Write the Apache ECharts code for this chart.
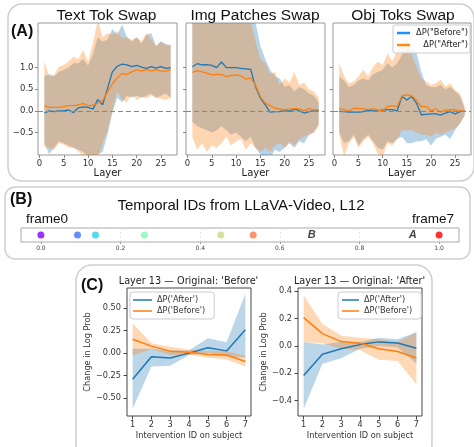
<!DOCTYPE html>
<html><head><meta charset="utf-8">
<script src="https://cdn.jsdelivr.net/npm/echarts@6/dist/echarts.min.js"></script>
<style>html,body{margin:0;padding:0;background:#fff}#c{width:474px;height:447px}</style>
</head><body><div id="c"></div>
<script>
// ---------- DATA ----------
const layers = [1,2,3,4,5,6,7,8,9,10,11,12,13,14,15,16,17,18,19,20,21,22,23,24,25,26,27];
const layerTicks = [0,5,10,15,20,25];
const aYTicks = [-0.5,0,0.5,1.0];

// Text Tok Swap
const ttBefore   = [-0.05,0.0,-0.02,0.0,0.0,0.02,-0.04,0.07,0.09,0.08,0.04,0.26,0.14,0.52,0.9,1.03,1.08,1.06,1.02,1.05,1.01,0.98,1.02,0.99,1.02,0.98,1.0];
const ttBeforeLo = [-0.75,-1.0,-0.85,-0.7,-0.75,-0.8,-0.85,-0.9,-0.95,-1.05,-1.05,-1.0,-0.95,-0.55,-0.05,0.3,0.2,0.35,0.3,0.35,0.3,0.35,0.4,0.3,0.35,0.4,0.3];
const ttBeforeHi = [0.8,0.85,0.8,0.9,0.95,1.0,1.1,1.1,1.2,1.05,1.3,1.7,1.6,1.65,1.9,1.75,2.0,1.7,1.6,1.7,1.55,1.75,1.8,1.5,1.6,1.55,1.5];
const ttAfter    = [0.12,0.08,0.08,0.08,0.1,0.12,0.12,0.14,0.17,0.12,0.13,0.17,0.24,0.44,0.62,0.76,0.86,0.84,0.9,0.95,0.92,0.96,0.92,0.95,0.92,0.92,0.95];
const ttAfterLo  = [-0.82,-0.86,-0.9,-0.75,-0.78,-0.85,-0.85,-0.94,-1.05,-1.1,-1.1,-1.1,-0.75,-0.45,0.0,0.45,0.25,0.2,0.37,0.25,0.33,0.29,0.35,0.3,0.28,0.25,0.3];
const ttAfterHi  = [1.14,0.79,0.83,1.02,1.06,1.14,1.25,1.2,1.4,1.14,1.56,2.1,1.7,1.8,1.75,1.85,1.68,1.7,1.64,1.7,1.6,1.8,1.65,1.5,1.6,1.5,1.55];

// Img Patches Swap
const ipBefore   = [1.02,1.09,1.06,1.07,1.05,1.0,1.13,1.0,1.0,1.0,0.98,0.97,0.96,0.56,0.3,0.14,-0.03,-0.02,-0.02,0.01,-0.01,0.04,0.0,-0.05,-0.02,0.0,0.0];
const ipBeforeLo = [-0.25,-0.35,-0.4,-0.45,-0.5,-0.45,-0.35,-0.45,-0.55,-0.5,-0.6,-0.7,-0.6,-0.85,-1.0,-1.1,-1.1,-0.9,-0.95,-0.85,-0.75,-0.85,-0.7,-0.75,-0.55,-0.5,-0.3];
const ipBeforeHi = [2.1,2.1,2.1,2.1,2.1,2.1,2.1,2.1,2.1,2.1,2.1,2.1,2.1,2.05,1.5,1.2,0.95,0.8,0.75,0.55,0.6,0.45,0.55,0.5,0.4,0.35,0.2];
const ipAfter    = [0.89,0.93,0.9,0.87,0.83,0.84,0.84,0.79,0.82,0.83,0.81,0.73,0.77,0.59,0.33,0.18,0.12,0.06,0.04,0.02,0.04,0.05,0.05,0.0,0.05,0.02,0.03];
const ipAfterLo  = [-0.6,-0.9,-0.75,-0.95,-0.8,-0.85,-0.75,-0.6,-0.8,-0.7,-0.65,-0.9,-0.75,-0.85,-0.95,-0.85,-0.95,-0.8,-0.75,-0.85,-0.7,-0.8,-0.65,-0.6,-0.55,-0.5,-0.35];
const ipAfterHi  = [2.1,2.1,2.1,2.1,2.1,2.1,2.1,2.1,2.1,2.1,2.1,2.1,2.1,1.6,1.2,1.1,0.85,0.9,0.6,0.75,0.65,0.9,0.6,0.65,0.5,0.45,0.3];

// Obj Toks Swap
const otBefore   = [-0.01,-0.02,-0.03,-0.03,-0.03,-0.02,0.02,0.0,0.0,0.02,0.03,0.03,0.0,0.33,0.25,0.33,0.18,-0.09,-0.08,-0.07,-0.07,-0.1,-0.05,-0.02,-0.07,-0.02,0.0];
const otBeforeLo = [-0.5,-0.75,-0.7,-0.55,-0.8,-0.65,-0.55,-0.7,-0.85,-0.9,-0.7,-0.75,-0.65,-0.6,-0.75,-0.75,-0.7,-0.7,-0.65,-0.8,-0.65,-0.6,-0.55,-0.65,-0.45,-0.3,-0.1];
const otBeforeHi = [0.8,0.7,0.55,0.6,0.7,0.75,0.7,0.85,0.9,0.95,1.1,1.0,1.1,1.3,1.45,1.5,1.35,0.9,0.6,0.55,0.55,0.6,0.5,0.55,0.45,0.35,0.05];
const otAfter    = [0.06,0.03,0.0,0.06,0.05,0.05,0.03,0.05,0.02,0.0,0.1,0.12,0.1,0.35,0.37,0.35,0.25,0.1,0.1,0.0,0.05,-0.03,0.02,0.02,0.03,0.0,0.0];
const otAfterLo  = [-0.55,-1.05,-0.75,-0.6,-0.85,-0.7,-0.6,-0.75,-1.0,-1.05,-0.75,-0.8,-0.65,-0.45,-0.45,-0.45,-0.5,-0.55,-0.55,-0.6,-0.5,-0.55,-0.5,-0.45,-0.4,-0.3,-0.1];
const otAfterHi  = [1.1,0.8,0.64,0.68,0.8,0.95,0.8,1.02,1.14,1.06,1.33,1.14,1.4,1.55,1.75,1.3,1.02,0.75,0.68,0.6,0.64,0.72,0.56,0.64,0.48,0.4,0.1];

// Panel B
const framePos  = [0.0,0.092,0.137,0.26,0.452,0.533,1.0];
const frameCols = ['#8000ff','#3a72f8','#22d3e0','#7ff9b4','#c9d97f','#ff7848','#ff0000'];
const letterPos = [0.68,0.934];
const letterTxt = ['B','A'];
const bTicks = [0,0.2,0.4,0.6,0.8,1.0];

// Panel C
const cx = [1,2,3,4,5,6,7];
const c1After    = [-0.29,-0.04,-0.055,0.0,0.06,0.025,0.26];
const c1AfterLo  = [-0.62,-0.15,-0.14,-0.02,0.0,-0.04,-0.05];
const c1AfterHi  = [0.05,0.05,0.03,0.03,0.165,0.12,0.66];
const c1Before   = [0.155,0.078,0.022,0.01,-0.015,-0.02,-0.093];
const c1BeforeLo = [-0.03,0.045,-0.02,-0.02,-0.05,-0.07,-0.15];
const c1BeforeHi = [0.33,0.11,0.07,0.04,0.02,0.02,-0.03];
const c2After    = [-0.215,-0.06,-0.02,0.01,0.03,0.022,-0.017];
const c2AfterLo  = [-0.46,-0.13,-0.09,-0.02,0.0,-0.01,-0.13];
const c2AfterHi  = [0.03,0.01,0.03,0.03,0.06,0.05,0.1];
const c2Before   = [0.207,0.09,0.032,0.02,-0.02,-0.04,-0.088];
const c2BeforeLo = [0.03,0.02,-0.02,-0.03,-0.1,-0.11,-0.28];
const c2BeforeHi = [0.37,0.16,0.075,0.06,0.05,0.03,0.1];
const c1YTicks = [-0.5,-0.25,0,0.25,0.5];
const c2YTicks = [-0.4,-0.2,0,0.2,0.4];

// ---------- CHART ----------
const MPL = '"DejaVu Sans"';
const SANS = '"Liberation Sans"';
const BLUE = '#1f77b4', ORANGE = '#ff7f0e';
const fmt = d => v => (v < 0 ? '\u2212' : '') + Math.abs(v).toFixed(d);

const grids = [
  {left:38, top:23, width:139, height:132, borderColor:'#999'},
  {left:186, top:23, width:139, height:132, borderColor:'#999'},
  {left:333, top:23, width:138, height:132, borderColor:'#999'},
  {left:21, top:228, width:438, height:14, borderColor:'#aaa'},
  {left:127, top:288, width:124, height:128, borderColor:'#444'},
  {left:298, top:288, width:124, height:128, borderColor:'#444'}
].map(g => Object.assign({show:true, borderWidth:1, backgroundColor:'transparent', outerBoundsMode:'none', containLabel:false}, g));

const xAxes = [], yAxes = [];
for (let i = 0; i < 3; i++) {
  xAxes.push({type:'value', gridIndex:i, min:-0.3, max:28.3,
    name:'Layer', nameLocation:'middle', nameGap:13,
    nameTextStyle:{fontFamily:MPL, fontSize:10, color:'#222'},
    axisLine:{show:false, onZero:false},
    axisTick:{show:true, length:3, lineStyle:{color:'#888'}, customValues:layerTicks},
    axisLabel:{customValues:layerTicks, fontFamily:MPL, fontSize:8.5, color:'#333', margin:4},
    splitLine:{show:false}});
  yAxes.push({type:'value', gridIndex:i, min:-1.02, max:2.03,
    axisLine:{show:false, onZero:false},
    axisTick:{show:true, length:3, lineStyle:{color:'#888'}, customValues:aYTicks},
    axisLabel:{show:i===0, customValues:aYTicks, formatter:fmt(1), fontFamily:MPL, fontSize:8.5, color:'#333', margin:4.5},
    splitLine:{show:false}});
}
xAxes.push({type:'value', gridIndex:3, min:-0.05, max:1.05,
  axisLine:{show:false, onZero:false},
  axisTick:{show:true, length:2, lineStyle:{color:'#999'}, customValues:bTicks},
  axisLabel:{customValues:bTicks, formatter:fmt(1), fontFamily:MPL, fontSize:6, color:'#444', margin:3},
  splitLine:{show:false}});
yAxes.push({type:'value', gridIndex:3, min:0, max:1, show:false});

[[4, [-0.70,0.725], c1YTicks, 2, 34], [5, [-0.512,0.424], c2YTicks, 1, 29]].forEach(([g, ext, ticks, d, gap]) => {
  xAxes.push({type:'value', gridIndex:g, min:0.7, max:7.3,
    name:'Intervention ID on subject', nameLocation:'middle', nameGap:16,
    nameTextStyle:{fontFamily:MPL, fontSize:8.2, color:'#333'},
    axisLine:{show:false, onZero:false},
    axisTick:{show:true, length:3.5, lineStyle:{color:'#444'}, customValues:cx},
    axisLabel:{customValues:cx, fontFamily:MPL, fontSize:8.2, color:'#333', margin:5},
    splitLine:{show:false}});
  yAxes.push({type:'value', gridIndex:g, min:ext[0], max:ext[1],
    name:'Change in Log Prob', nameLocation:'middle', nameGap:gap,
    nameTextStyle:{fontFamily:MPL, fontSize:8.2, color:'#333'},
    axisLine:{show:false, onZero:false},
    axisTick:{show:true, length:3.5, lineStyle:{color:'#444'}, customValues:ticks},
    axisLabel:{customValues:ticks, formatter:fmt(d), fontFamily:MPL, fontSize:8.2, color:'#333', margin:6},
    splitLine:{show:false}});
});

const series = [];
// shaded band between lo and hi, drawn as one polygon through the axis scales
function band(idx, xs, lo, hi, color, op) {
  const rows = xs.map((x,i)=>[x, lo[i], hi[i]]);
  series.push({type:'custom', xAxisIndex:idx, yAxisIndex:idx, silent:true, z:2, clip:true,
    data: rows, encode:{x:0, y:[1,2]},
    renderItem: (params, api) => {
      if (params.dataIndex !== 0) return null;
      const top = rows.map(r => api.coord([r[0], r[2]]));
      const bot = rows.map(r => api.coord([r[0], r[1]])).reverse();
      const cs = params.coordSys;
      return {type:'group', clipPath:{type:'rect', shape:{x:cs.x, y:cs.y, width:cs.width, height:cs.height}},
        children:[{type:'polygon', shape:{points: top.concat(bot)}, style:{fill:color, opacity:op, stroke:null}}]};
    }});
}
function line(idx, xs, ys, color, name, w, extra) {
  series.push(Object.assign({type:'line', name:name, xAxisIndex:idx, yAxisIndex:idx, symbol:'none', silent:true,
    data: xs.map((x,i)=>[x, ys[i]]), lineStyle:{color:color, width:w}, itemStyle:{color:color}, z:3}, extra||{}));
}
const zeroLine = {markLine:{silent:true, symbol:['none','none'], label:{show:false},
  lineStyle:{color:'#888', type:[5,3], width:1}, data:[{yAxis:0}]}};

const A = [
  [ttBefore, ttBeforeLo, ttBeforeHi, ttAfter, ttAfterLo, ttAfterHi],
  [ipBefore, ipBeforeLo, ipBeforeHi, ipAfter, ipAfterLo, ipAfterHi],
  [otBefore, otBeforeLo, otBeforeHi, otAfter, otAfterLo, otAfterHi]
];
A.forEach((s, i) => {
  band(i, layers, s[1], s[2], BLUE, 0.32);
  band(i, layers, s[4], s[5], ORANGE, 0.32);
  line(i, layers, s[0], BLUE, 'ΔP("Before")', 1.3, zeroLine);
  line(i, layers, s[3], ORANGE, 'ΔP("After")', 1.3);
});

// Panel B
series.push({type:'scatter', xAxisIndex:3, yAxisIndex:3, symbolSize:7, silent:true, z:3,
  data: framePos.map((x,i)=>({value:[x,0.5], itemStyle:{color:frameCols[i]}})),
  markLine:{silent:true, symbol:['none','none'], label:{show:false}, z:1,
    lineStyle:{color:'#dcdcdc', type:[2,2], width:0.8}, data: bTicks.map(v=>({xAxis:v}))}});
series.push({type:'scatter', xAxisIndex:3, yAxisIndex:3, symbolSize:0, silent:true, z:4,
  data: letterPos.map((x,i)=>({name:letterTxt[i], value:[x,0.5]})),
  label:{show:true, position:'inside', formatter:'{b}', fontFamily:SANS, fontWeight:'bold', fontStyle:'italic', fontSize:11, color:'#111'}});

// Panel C
[[4, c1After, c1AfterLo, c1AfterHi, c1Before, c1BeforeLo, c1BeforeHi],
 [5, c2After, c2AfterLo, c2AfterHi, c2Before, c2BeforeLo, c2BeforeHi]].forEach(s => {
  const g = s[0];
  band(g, cx, s[2], s[3], BLUE, 0.3);
  band(g, cx, s[5], s[6], ORANGE, 0.3);
  line(g, cx, s[1], BLUE, "ΔP('After')", 1.5);
  line(g, cx, s[4], ORANGE, "ΔP('Before')", 1.5);
});

const legText = {fontFamily:MPL, fontSize:8.2, color:'#333'};
const legends = [
  {left:393, top:25, orient:'vertical', selectedMode:false, icon:'rect', itemWidth:13, itemHeight:2.5, itemGap:4,
   padding:[4,2,4,4], borderColor:'#ccc', borderWidth:1, borderRadius:2, backgroundColor:'rgba(255,255,255,0.85)',
   data:[{name:'ΔP("Before")', itemStyle:{color:'#1e8fff'}}, {name:'ΔP("After")', itemStyle:{color:'#ff8a1a'}}],
   formatter: n => '{r|' + n + '}',
   textStyle:{fontFamily:MPL, fontSize:8.3, color:'#222', rich:{r:{width:53, align:'right', fontFamily:MPL, fontSize:8.3, color:'#222'}}}},
  {left:130, top:292, orient:'vertical', selectedMode:false, icon:'rect', itemWidth:19, itemHeight:1.5, itemGap:3,
   padding:[4,9,4,3], borderColor:'#ccc', borderWidth:1, borderRadius:3, backgroundColor:'rgba(255,255,255,0.85)',
   data:["ΔP('After')", "ΔP('Before')"], textStyle:legText},
  {left:338, top:292, orient:'vertical', selectedMode:false, icon:'rect', itemWidth:17, itemHeight:1.5, itemGap:3,
   padding:[4,9,4,4], borderColor:'#ccc', borderWidth:1, borderRadius:3, backgroundColor:'rgba(255,255,255,0.85)',
   data:["ΔP('After')", "ΔP('Before')"], textStyle:legText}
];

function box(x, y, w, h, r) {
  return {type:'rect', silent:true, z:-10, shape:{x:x, y:y, width:w, height:h, r:r},
    style:{fill:'none', stroke:'#cfcfcf', lineWidth:1.5}};
}
function txt(t, x, y, font, align, fill) {
  return {type:'text', silent:true, z:50, x:x, y:y,
    style:{text:t, font:font, fill:fill||'#111', textAlign:align||'center', textVerticalAlign:'middle'}};
}
const graphic = [
  box(8, 4, 466, 177, 14),
  box(5, 187, 465, 72, 10),
  box(76, 265, 356, 195, 16),
  txt('(A)', 11, 32, 'bold 16px ' + SANS, 'left'),
  txt('Text Tok Swap', 106.5, 16, '15.5px ' + SANS),
  txt('Img Patches Swap', 255, 16, '15.5px ' + SANS),
  txt('Obj Toks Swap', 403, 16, '15.5px ' + SANS),
  txt('(B)', 10, 200, 'bold 16px ' + SANS, 'left'),
  txt('Temporal IDs from LLaVA-Video, L12', 241, 205.5, '15px ' + SANS),
  txt('frame0', 47, 219.5, '13.5px ' + SANS),
  txt('frame7', 433, 219.5, '13.5px ' + SANS),
  txt('(C)', 81, 286, 'bold 16px ' + SANS, 'left'),
  txt("Layer 13 \u2014 Original: 'Before'", 188.5, 281, '9.7px ' + MPL, 'center', '#222'),
  txt("Layer 13 \u2014 Original: 'After'", 359.5, 281, '9.7px ' + MPL, 'center', '#222')
];

const chart = echarts.init(document.getElementById('c'), null, {renderer:'canvas'});
chart.setOption({animation:false, backgroundColor:'#fff', grid:grids, xAxis:xAxes, yAxis:yAxes,
  series:series, legend:legends, graphic:graphic, tooltip:{show:false}});
</script></body></html>
